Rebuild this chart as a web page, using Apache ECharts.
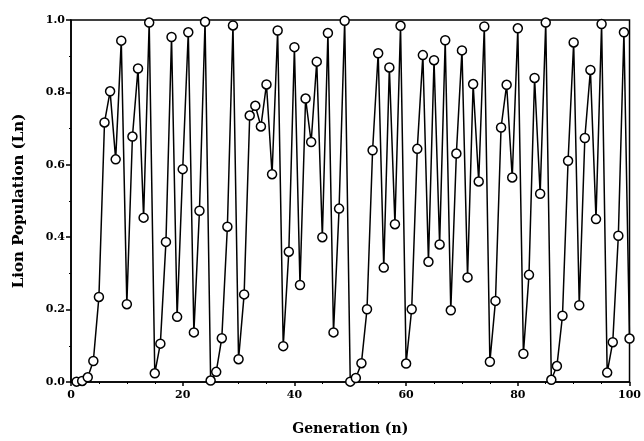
<!DOCTYPE html>
<html>
<head>
<meta charset="utf-8">
<script src="https://cdn.jsdelivr.net/npm/echarts@6/dist/echarts.min.js"></script>
<style>
  html, body { margin: 0; padding: 0; background: #fff; }
  #lionChart { width: 644px; height: 441px; }
</style>
</head>
<body>
<div id="lionChart"></div>
<script>
// generation numbers 1..100
var generasi = [];
for (var i = 1; i <= 100; i++) generasi.push(i);

// lion population, one value per generation
var populasi = [
  0.001, 0.003, 0.013, 0.058, 0.235, 0.717, 0.803, 0.615, 0.943, 0.215,
  0.678, 0.866, 0.454, 0.993, 0.024, 0.106, 0.387, 0.953, 0.180, 0.588,
  0.966, 0.137, 0.473, 0.995, 0.004, 0.028, 0.121, 0.429, 0.985, 0.063,
  0.242, 0.736, 0.763, 0.706, 0.822, 0.574, 0.971, 0.099, 0.360, 0.925,
  0.268, 0.783, 0.663, 0.885, 0.400, 0.964, 0.137, 0.479, 0.998, 0.001,
  0.011, 0.052, 0.201, 0.640, 0.908, 0.316, 0.869, 0.436, 0.984, 0.051,
  0.201, 0.644, 0.903, 0.332, 0.889, 0.380, 0.944, 0.198, 0.631, 0.916,
  0.289, 0.823, 0.554, 0.982, 0.056, 0.224, 0.703, 0.821, 0.565, 0.977,
  0.078, 0.296, 0.840, 0.520, 0.993, 0.006, 0.044, 0.183, 0.611, 0.938,
  0.212, 0.674, 0.862, 0.450, 0.989, 0.026, 0.110, 0.404, 0.966, 0.120
];

var dataTitik = generasi.map(function (n, idx) {
  return [n, populasi[idx]];
});

var hurufSerif = '"DejaVu Serif", "Liberation Serif", serif';

var lineChart = echarts.init(document.getElementById('lionChart'));

var option = {
  animation: false,
  backgroundColor: '#fff',
  grid: {
    left: 71,
    right: 10,
    top: 20,
    bottom: 53,
    show: true,
    borderColor: '#000',
    borderWidth: 1.5,
  },
  xAxis: {
    type: 'value',
    min: 0,
    max: 100,
    interval: 20,
    name: 'Generation (n)',
    nameLocation: 'middle',
    nameGap: 40,
    nameTextStyle: { color: '#000', fontFamily: hurufSerif, fontWeight: 'bold', fontSize: 14 },
    axisLine: { show: true, lineStyle: { color: '#000', width: 1.5 } },
    axisTick: { show: true, length: 4, lineStyle: { color: '#000', width: 1.5 } },
    minorTick: { show: true, splitNumber: 4, length: 2, lineStyle: { color: '#000', width: 1 } },
    axisLabel: { color: '#000', fontFamily: hurufSerif, fontWeight: 'bold', fontSize: 11, margin: 8 },
    splitLine: { show: false },
  },
  yAxis: {
    type: 'value',
    min: 0,
    max: 1,
    interval: 0.2,
    name: 'Lion Population (Ln)',
    nameLocation: 'middle',
    nameGap: 44,
    nameTextStyle: { color: '#000', fontFamily: hurufSerif, fontWeight: 'bold', fontSize: 15 },
    axisLine: { show: true, lineStyle: { color: '#000', width: 1.5 } },
    axisTick: { show: true, length: 5, lineStyle: { color: '#000', width: 1.5 } },
    minorTick: { show: true, splitNumber: 2, length: 2, lineStyle: { color: '#000', width: 1 } },
    axisLabel: {
      color: '#000', fontFamily: hurufSerif, fontWeight: 'bold', fontSize: 11, margin: 6,
      formatter: function (v) { return v.toFixed(1); },
    },
    splitLine: { show: false },
  },
  series: [
    {
      type: 'line',
      data: dataTitik,
      symbol: 'circle',
      symbolSize: 9,
      showAllSymbol: true,
      lineStyle: { color: '#000', width: 1.5 },
      itemStyle: { color: '#fff', borderColor: '#000', borderWidth: 1.5 },
      clip: false,
    },
  ],
};

lineChart.setOption(option);
</script>
</body>
</html>
